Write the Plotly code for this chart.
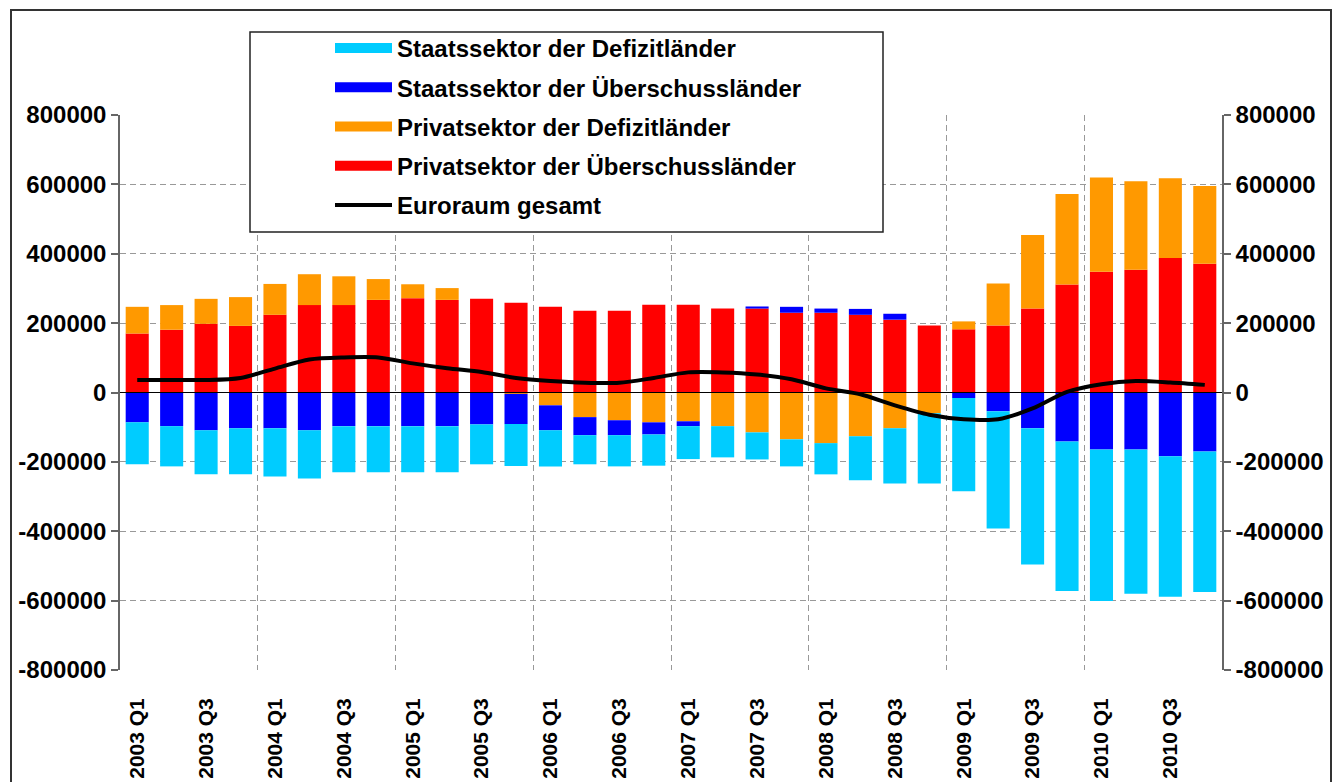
import plotly.graph_objects as go

# ---------------- data ----------------
quarters = [
    "2003 Q1", "2003 Q2", "2003 Q3", "2003 Q4",
    "2004 Q1", "2004 Q2", "2004 Q3", "2004 Q4",
    "2005 Q1", "2005 Q2", "2005 Q3", "2005 Q4",
    "2006 Q1", "2006 Q2", "2006 Q3", "2006 Q4",
    "2007 Q1", "2007 Q2", "2007 Q3", "2007 Q4",
    "2008 Q1", "2008 Q2", "2008 Q3", "2008 Q4",
    "2009 Q1", "2009 Q2", "2009 Q3", "2009 Q4",
    "2010 Q1", "2010 Q2", "2010 Q3", "2010 Q4",
]

privat_ueberschuss = [
    170000, 181000, 198000, 192000, 224000, 252000, 252000, 267000,
    272000, 267000, 270000, 259000, 247000, 236000, 236000, 253000,
    253000, 242000, 242000, 230000, 230000, 224000, 210000, 193000,
    182000, 193000, 242000, 311000, 348000, 354000, 388000, 371000,
]
privat_defizit = [
    77000, 71000, 72000, 83000, 89000, 89000, 83000, 60000,
    40000, 34000, 0, -4000, -37000, -71000, -80000, -86000,
    -83000, -97000, -115000, -135000, -146000, -126000, -103000, -60000,
    23000, 121000, 212000, 261000, 272000, 255000, 230000, 224000,
]
staat_ueberschuss = [
    -86000, -97000, -109000, -103000, -103000, -109000, -97000, -97000,
    -97000, -97000, -92000, -87000, -72000, -52000, -43000, -35000,
    -14000, 0, 6000, 17000, 12000, 17000, 17000, 0,
    -16000, -54000, -103000, -141000, -164000, -164000, -184000, -170000,
]
staat_defizit = [
    -121000, -116000, -127000, -133000, -139000, -139000, -133000, -133000,
    -133000, -133000, -115000, -121000, -104000, -84000, -90000, -90000,
    -95000, -90000, -78000, -78000, -90000, -127000, -159000, -202000,
    -269000, -338000, -393000, -431000, -437000, -416000, -405000, -405000,
]
euroraum_gesamt = [
    36000, 36000, 36000, 42000, 69000, 95000, 101000, 101000,
    84000, 70000, 59000, 42000, 33000, 28000, 28000, 42000,
    58000, 58000, 52000, 38000, 12000, -5000, -37000, -64000,
    -77000, -77000, -46000, 2000, 24000, 33000, 29000, 22000,
]

x_tick_labels = [
    "2003 Q1", "2003 Q3", "2004 Q1", "2004 Q3", "2005 Q1", "2005 Q3",
    "2006 Q1", "2006 Q3", "2007 Q1", "2007 Q3", "2008 Q1", "2008 Q3",
    "2009 Q1", "2009 Q3", "2010 Q1", "2010 Q3",
]
y_tick_values = [-800000, -600000, -400000, -200000, 0, 200000, 400000, 600000, 800000]
y_tick_labels = ["-800000", "-600000", "-400000", "-200000", "0",
                 "200000", "400000", "600000", "800000"]
year_starts = ["2004 Q1", "2005 Q1", "2006 Q1", "2007 Q1", "2008 Q1", "2009 Q1", "2010 Q1"]

names = {
    "sd": "Staatssektor der Defizitländer",
    "su": "Staatssektor der Überschussländer",
    "pd": "Privatsektor der Defizitländer",
    "pu": "Privatsektor der Überschussländer",
    "eu": "Euroraum gesamt",
}
colors = {"sd": "#00CCFF", "su": "#0000FF", "pd": "#FF9900", "pu": "#FF0000"}

# ---------------- figure ----------------
xpos = list(range(len(quarters)))
tick_pos = [quarters.index(q) for q in x_tick_labels]
grid_pos = [quarters.index(q) - 0.5 for q in year_starts]
x_range = [-0.5, len(quarters) - 0.5]

FONT = "Liberation Sans, Arial, sans-serif"
fig = go.Figure()

# stacking order: red, orange, blue, cyan
for key, vals in [("pu", privat_ueberschuss), ("pd", privat_defizit),
                  ("su", staat_ueberschuss), ("sd", staat_defizit)]:
    fig.add_trace(go.Bar(
        x=xpos, y=vals, name=names[key], width=0.67,
        marker=dict(color=colors[key], line=dict(width=0)),
        showlegend=False, hoverinfo="x+y+name",
    ))

fig.add_trace(go.Scatter(
    x=xpos, y=euroraum_gesamt, mode="lines", name=names["eu"],
    line=dict(color="black", width=4, shape="spline", smoothing=0.8),
    legendrank=5, legendgroup="eu",
))

# legend swatches for bar series (on the overlay axes used for grid / right ticks)
for rank, key in enumerate(["sd", "su", "pd", "pu"], start=1):
    fig.add_trace(go.Scatter(
        x=[None], y=[None], mode="lines", name=names[key],
        line=dict(color=colors[key], width=17),
        legendrank=rank, legendgroup=key, xaxis="x2", yaxis="y2", hoverinfo="skip",
    ))

L, R, T, B = 120, 111, 115, 112
W, H = 1333, 782
pw = W - L - R
ph = H - T - B

def px_x(p):
    return (p - L) / pw

def px_y(p):
    return (H - B - p) / ph

axis_common = dict(
    range=[-800000, 800000], tickmode="array", tickvals=y_tick_values, ticktext=y_tick_labels,
    ticks="outside", ticklen=7, tickcolor="#666666", tickwidth=1.5,
    showline=True, linecolor="#666666", linewidth=1.5,
    tickfont=dict(family=FONT, size=24, color="black", weight="bold"),
    zeroline=False, automargin=False,
)

fig.update_layout(
    width=W, height=H,
    margin=dict(l=L, r=R, t=T, b=B, autoexpand=False),
    paper_bgcolor="white", plot_bgcolor="white",
    barmode="relative",
    font=dict(family=FONT, color="black"),
    xaxis=dict(
        range=x_range,
        tickmode="array", tickvals=tick_pos, ticktext=x_tick_labels,
        tickangle=-90, ticks="", showgrid=False, zeroline=False, showline=False,
        tickfont=dict(family=FONT, size=21, color="black", weight="bold"),
        ticklabelstandoff=23, automargin=False,
    ),
    xaxis2=dict(
        range=x_range, overlaying="x", side="bottom",
        tickmode="array", tickvals=grid_pos, showticklabels=False, ticks="",
        showgrid=True, gridcolor="#999999", gridwidth=1, griddash="6px,4px",
        zeroline=False, showline=False, automargin=False,
    ),
    yaxis=dict(**axis_common, showgrid=True, gridcolor="#999999", gridwidth=1,
               griddash="6px,4px", side="left"),
    yaxis2=dict(**axis_common, overlaying="y", side="right", showgrid=False),
    legend=dict(
        x=px_x(330), y=px_y(26), xanchor="left", yanchor="top",
        bgcolor="rgba(0,0,0,0)", borderwidth=0,
        font=dict(family=FONT, size=24, color="black", weight="bold"),
        itemwidth=57, tracegroupgap=5, traceorder="grouped",
    ),
    shapes=[
        # outer chart frame
        dict(type="rect", xref="paper", yref="paper",
             x0=px_x(11), x1=px_x(1331), y0=px_y(900), y1=px_y(10),
             line=dict(color="#333333", width=2), fillcolor="rgba(0,0,0,0)", layer="below"),
        # zero line
        dict(type="line", xref="paper", yref="y", x0=0, x1=1, y0=0, y1=0,
             line=dict(color="black", width=1), layer="above"),
        # legend frame
        dict(type="rect", xref="paper", yref="paper",
             x0=px_x(250), x1=px_x(883), y0=px_y(232), y1=px_y(32),
             line=dict(color="#222222", width=1.5), fillcolor="white", layer="above"),
    ],
    showlegend=True,
)

fig.write_html(
    "out.html",
    config={"displayModeBar": False},
    post_script="document.body.style.margin='0';document.body.style.overflow='hidden';",
)
